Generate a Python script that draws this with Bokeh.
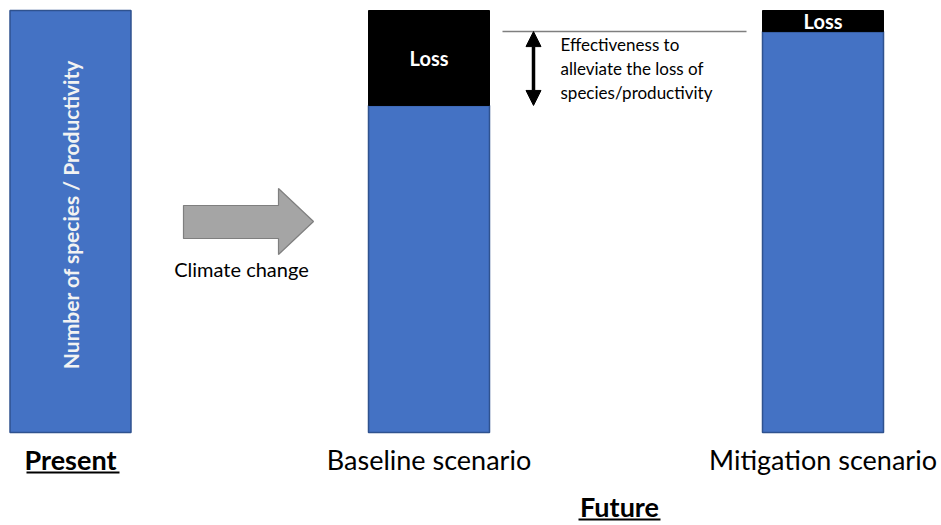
from math import pi
from bokeh.plotting import figure
from bokeh.models import Range1d, Arrow, NormalHead, ColumnDataSource
from bokeh.core.properties import value
from bokeh.embed import file_html
from bokeh.resources import INLINE

# ---- data ----
categories = ["Present", "Baseline scenario", "Mitigation scenario"]
remaining = [100, 77.5, 95]          # number of species / productivity (present = 100)
loss = [0, 22.5, 5]                  # loss relative to present
y_label = "Number of species / Productivity"
group_label = "Future"
driver_label = "Climate change"
effect_lines = ["Effectiveness to", "alleviate the loss of", "species/productivity"]

# ---- layout ----
W, H = 938, 522
x_centers = [70, 428.5, 822.5]
bar_w = 121
PX = 4.22                            # pixels per unit on y
BASE = 432                           # screen y of value 0
def yv(screen_y):
    return (BASE - screen_y) / PX

FONT = value("Lato")
BLUE = "#4472C4"
EDGE = "#2F528F"

p = figure(width=W, height=H, x_range=Range1d(0, W),
           y_range=Range1d(yv(H), yv(0)),
           output_backend="svg", toolbar_location=None,
           min_border=0, outline_line_color=None)
p.axis.visible = False
p.grid.visible = False
p.background_fill_color = "white"
p.border_fill_color = "white"

src = ColumnDataSource(dict(x=x_centers, rem=remaining))
p.vbar(x="x", width=bar_w, bottom=0, top="rem", source=src,
       fill_color=BLUE, line_color=EDGE, line_width=1.5)
lsrc = ColumnDataSource(dict(x=x_centers[1:], b=remaining[1:],
                             t=[r + l for r, l in zip(remaining[1:], loss[1:])]))
p.vbar(x="x", width=bar_w, bottom="b", top="t", source=lsrc,
       fill_color="black", line_color="black", line_width=1)

# Loss labels
p.text(x=[x_centers[1], x_centers[2]],
       y=[(remaining[1] + 100) / 2, (remaining[2] + 100) / 2],
       text=["Loss", "Loss"], text_font=FONT, text_font_style="bold",
       text_font_size="20px", text_color="white",
       text_align="center", text_baseline="middle")

# rotated label in present bar
p.text(x=[x_centers[0]], y=[yv(214)], text=[y_label], angle=pi / 2,
       text_font=FONT, text_font_style="bold", text_font_size="21px",
       text_color="#F2F2F2", text_align="center", text_baseline="middle")

# block arrow (climate change)
ax = [183, 278, 278, 313, 278, 278, 183]
ay = [yv(s) for s in [205, 205, 188, 221, 254, 238, 238]]
p.patch(ax, ay, fill_color="#A5A5A5", line_color="#7F7F7F", line_width=1.2)
p.text(x=[241], y=[yv(268)], text=[driver_label], text_font=FONT,
       text_font_size="20px", text_color="black",
       text_align="center", text_baseline="middle")

# reference line at mitigation level and double arrow
p.segment(x0=[502], y0=[remaining[2]], x1=[746], y1=[remaining[2]],
          line_color="#7F7F7F", line_width=1.5)
p.add_layout(Arrow(x_start=533, y_start=remaining[2], x_end=533, y_end=remaining[1],
                   line_width=3.5, line_color="black",
                   start=NormalHead(size=15, fill_color="black", line_color="black"),
                   end=NormalHead(size=15, fill_color="black", line_color="black")))
p.text(x=[560] * 3, y=[yv(s) for s in [44, 68, 92]], text=effect_lines,
       text_font=FONT, text_font_size="17px", text_color="black",
       text_align="left", text_baseline="middle")

# category labels
label_y = yv(459)
p.text(x=[x_centers[0]], y=[label_y], text=[categories[0]], text_font=FONT,
       text_font_style="bold", text_font_size="27px", text_color="black",
       text_align="center", text_baseline="middle")
p.segment(x0=[26], y0=[yv(472)], x1=[119], y1=[yv(472)],
          line_color="black", line_width=2)
p.text(x=x_centers[1:], y=[label_y] * 2, text=categories[1:], text_font=FONT,
       text_font_size="27px", text_color="black",
       text_align="center", text_baseline="middle")
p.text(x=[619], y=[yv(506)], text=[group_label], text_font=FONT,
       text_font_style="bold", text_font_size="27px", text_color="black",
       text_align="center", text_baseline="middle")
p.segment(x0=[578], y0=[yv(519)], x1=[660], y1=[yv(519)],
          line_color="black", line_width=2)

open("out.html", "w").write(file_html(p, INLINE))
